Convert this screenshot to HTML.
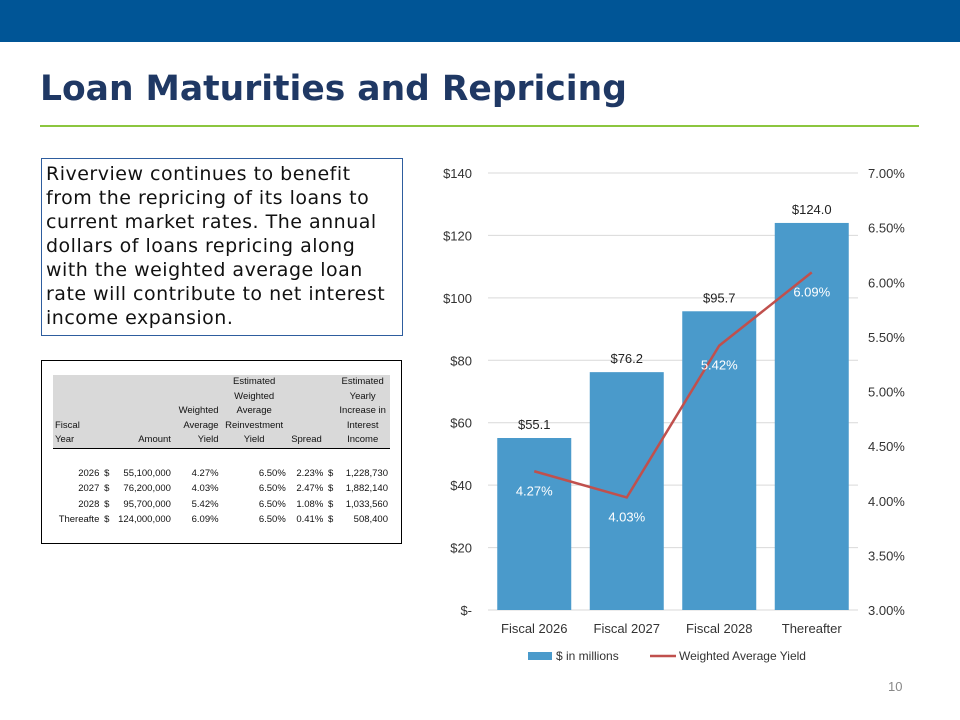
<!DOCTYPE html>
<html><head><meta charset="utf-8"><style>
body{margin:0;width:960px;height:720px;background:#fff;font-family:"Liberation Sans",sans-serif;position:relative;overflow:hidden}
.abs{position:absolute}
table{border-collapse:collapse;font-size:9.5px;font-family:"Liberation Sans",sans-serif;color:#111}
td{padding:0 2px;text-align:right;line-height:15.5px;white-space:nowrap}
thead td{background:#d9d9d9;text-align:center;line-height:14.5px}
</style></head><body>
<div class="abs" style="left:0;top:0;width:960px;height:42px;background:#005596"></div>
<div class="abs" style="left:40px;top:69px;font-family:'DejaVu Sans',sans-serif;font-size:34.5px;font-weight:bold;color:#1f3864;white-space:nowrap">Loan Maturities and Repricing</div>
<div class="abs" style="left:40px;top:125px;width:879px;height:2px;background:#8cc63f"></div>
<div class="abs" style="left:41px;top:158px;width:352px;height:170px;border:1px solid #2e5d9e;padding:3px 4px;font-family:'DejaVu Sans',sans-serif;font-size:19px;letter-spacing:0.5px;line-height:24px;color:#111;white-space:nowrap">Riverview continues to benefit<br>from the repricing of its loans to<br>current market rates. The annual<br>dollars of loans repricing along<br>with the weighted average loan<br>rate will contribute to net interest<br>income expansion.</div>
<div class="abs" style="left:41px;top:360px;width:359px;height:182px;border:1px solid #000">
<table class="abs" style="left:11px;top:14px;width:337px">
<thead><tr>
<td style="text-align:left;vertical-align:bottom;border-bottom:1px solid #000">Fiscal<br>Year</td><td style="border-bottom:1px solid #000"></td>
<td style="vertical-align:bottom;text-align:right;border-bottom:1px solid #000">Amount</td>
<td style="vertical-align:bottom;text-align:right;border-bottom:1px solid #000">Weighted<br>Average<br>Yield</td>
<td style="vertical-align:bottom;border-bottom:1px solid #000">Estimated<br>Weighted<br>Average<br>Reinvestment<br>Yield</td>
<td style="vertical-align:bottom;border-bottom:1px solid #000">Spread</td><td style="border-bottom:1px solid #000"></td>
<td style="vertical-align:bottom;border-bottom:1px solid #000">Estimated<br>Yearly<br>Increase in<br>Interest<br>Income</td></tr></thead>
<tbody>
<tr><td colspan="8" style="height:17px"></td></tr>
<tr><td>2026</td><td>$</td><td>55,100,000</td><td>4.27%</td><td>6.50%</td><td>2.23%</td><td>$</td><td>1,228,730</td></tr>
<tr><td>2027</td><td>$</td><td>76,200,000</td><td>4.03%</td><td>6.50%</td><td>2.47%</td><td>$</td><td>1,882,140</td></tr>
<tr><td>2028</td><td>$</td><td>95,700,000</td><td>5.42%</td><td>6.50%</td><td>1.08%</td><td>$</td><td>1,033,560</td></tr>
<tr><td>Thereafte</td><td>$</td><td>124,000,000</td><td>6.09%</td><td>6.50%</td><td>0.41%</td><td>$</td><td>508,400</td></tr>
</tbody></table></div>
<svg class="abs" id="chart" style="left:0;top:0" width="960" height="720" font-family="Liberation Sans, sans-serif" font-size="13"></svg>
<div class="abs" style="left:888px;top:679px;font-size:13px;color:#888">10</div>
<script>
const categories=["Fiscal 2026","Fiscal 2027","Fiscal 2028","Thereafter"];
const amounts=[55.1,76.2,95.7,124.0];
const amountLabels=["$55.1","$76.2","$95.7","$124.0"];
const yields=[4.27,4.03,5.42,6.09];
const leftTicks=[0,20,40,60,80,100,120,140];
const leftTickLabels=["$-","$20","$40","$60","$80","$100","$120","$140"];
const rightTicks=[3,3.5,4,4.5,5,5.5,6,6.5,7];
const NS="http://www.w3.org/2000/svg",svg=document.getElementById('chart');
const top_=173,bot=610,x0=488,x1=858;
const yL=v=>bot-(v/140)*(bot-top_);
const yR=v=>bot-((v-3)/4)*(bot-top_);
const step=(x1-x0)/categories.length;
const xc=i=>x0+step*(i+0.5);
function mk(t,a,txt){const e=document.createElementNS(NS,t);for(const k in a)e.setAttribute(k,a[k]);if(txt!=null)e.textContent=txt;svg.appendChild(e);return e;}
leftTicks.forEach((v,i)=>{
 const g=mk('line',{x1:x0,x2:x1,y1:yL(v),y2:yL(v),stroke:'#d9d9d9'});
 
 
 const t=mk('text',{x:472,y:yL(v)+5,'text-anchor':'end',fill:'#333'},leftTickLabels[i]);
 
 
});
rightTicks.forEach(v=>{
 const t=mk('text',{x:868,y:yR(v)+5,fill:'#333'},v.toFixed(2)+'%');
 
 
});
const bw=74;
amounts.forEach((v,i)=>{
 const r=mk('rect',{x:xc(i)-bw/2,y:yL(v),width:bw,height:bot-yL(v),fill:'#4a9acb'});
 
 
 const t=mk('text',{x:xc(i),y:yL(v)-9,'text-anchor':'middle',fill:'#222'},amountLabels[i]);
 
 
 const c=mk('text',{x:xc(i),y:bot+23,'text-anchor':'middle',fill:'#333'},categories[i]);
 
 
});
const pl=mk('polyline',{points:yields.map((v,i)=>xc(i)+','+yR(v)).join(' '),fill:'none',stroke:'#c0504d','stroke-width':2.5});


yields.forEach((v,i)=>{
 const t=mk('text',{x:xc(i),y:yR(v)+24,'text-anchor':'middle',fill:'#fff'},v.toFixed(2)+'%');
 
 
});
const l1=mk('rect',{x:528,y:652,width:24,height:8,fill:'#4a9acb'});


const l2=mk('text',{x:556,y:660,fill:'#333','font-size':12},'$ in millions');


const l3=mk('line',{x1:650,x2:676,y1:656,y2:656,stroke:'#c0504d','stroke-width':2.5});


const l4=mk('text',{x:679,y:660,fill:'#333','font-size':12},'Weighted Average Yield');


</script>
</body></html>
